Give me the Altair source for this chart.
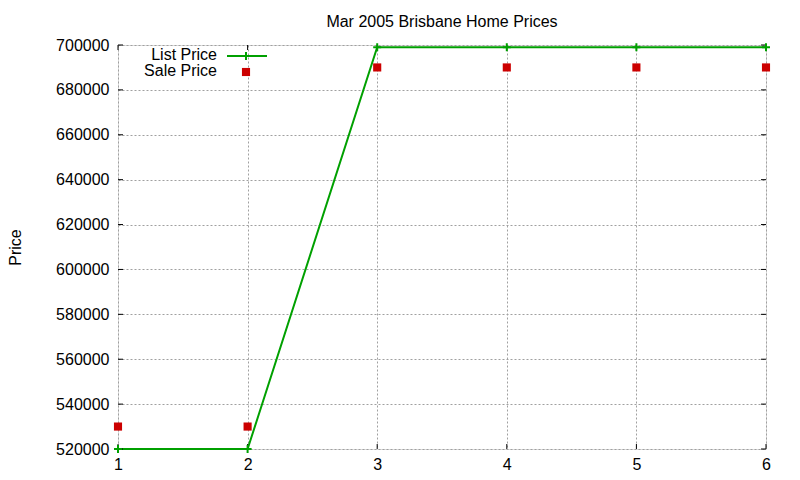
import altair as alt
import pandas as pd

x_vals = [1, 2, 3, 4, 5, 6]
list_price = [520000, 520000, 699000, 699000, 699000, 699000]
sale_price = [530000, 530000, 690000, 690000, 690000, 690000]
y_ticks = [520000, 540000, 560000, 580000, 600000, 620000, 640000, 660000, 680000, 700000]

GREEN = "#00a000"
RED = "#cc0000"
FONT = "Liberation Sans"
W, H, TK = 648, 404, 5

df = pd.DataFrame({"x": x_vals, "list": list_price, "sale": sale_price})
yt = pd.DataFrame({"v": y_ticks})
xt = pd.DataFrame({"v": x_vals})

xs = alt.Scale(domain=[1, 6], nice=False, zero=False)
ys = alt.Scale(domain=[520000, 700000], nice=False, zero=False)

x_axis = alt.Axis(values=x_vals, format="d", grid=True, gridColor="#a0a0a0", gridDash=[2, 2],
                  ticks=False, domain=False, labelFontSize=16, labelFont=FONT, labelColor="black",
                  labelPadding=7, labelFlush=False, labelOverlap=False, title=None)
y_axis = alt.Axis(values=y_ticks, format="d", grid=True, gridColor="#a0a0a0", gridDash=[2, 2],
                  ticks=False, domain=False, labelFontSize=16, labelFont=FONT, labelColor="black",
                  labelPadding=9, labelFlush=False, labelOverlap=False,
                  title="Price", titleFontSize=16, titleFont=FONT,
                  titleFontWeight="normal", titleColor="black", titleAngle=-90,
                  titleX=-103, titleY=202, titleAlign="center", titleBaseline="middle")

cross = "M -1 0 L 1 0 M 0 -1 L 0 1"

base = alt.Chart(df).mark_line(color=GREEN, strokeWidth=2).encode(
    x=alt.X("x:Q", scale=xs, axis=x_axis),
    y=alt.Y("list:Q", scale=ys, axis=y_axis),
)

# inward, mirrored ticks (gnuplot style)
yt_left = alt.Chart(yt).mark_rule(color="black", strokeWidth=1).encode(
    y=alt.Y("v:Q", scale=ys), x=alt.value(0), x2=alt.value(TK))
yt_right = alt.Chart(yt).mark_rule(color="black", strokeWidth=1).encode(
    y=alt.Y("v:Q", scale=ys), x=alt.value(W - TK), x2=alt.value(W))
xt_bot = alt.Chart(xt).mark_rule(color="black", strokeWidth=1).encode(
    x=alt.X("v:Q", scale=xs), y=alt.value(H - TK), y2=alt.value(H))
xt_top = alt.Chart(xt).mark_rule(color="black", strokeWidth=1).encode(
    x=alt.X("v:Q", scale=xs), y=alt.value(0), y2=alt.value(TK))

line_pts = alt.Chart(df).mark_point(shape=cross, size=64, color=GREEN, strokeWidth=2, filled=False, opacity=1).encode(
    x=alt.X("x:Q", scale=xs),
    y=alt.Y("list:Q", scale=ys),
)
sale_pts = alt.Chart(df).mark_square(size=66, color=RED, opacity=1).encode(
    x=alt.X("x:Q", scale=xs),
    y=alt.Y("sale:Q", scale=ys),
)

# legend (gnuplot style, top-left inside plot)
leg_names = ["List Price", "Sale Price"]
leg = pd.DataFrame({"name": leg_names})
leg_text1 = alt.Chart(leg.iloc[[0]]).mark_text(align="right", baseline="middle", fontSize=16, font=FONT, color="black").encode(
    text="name:N", x=alt.value(99), y=alt.value(10))
leg_text2 = alt.Chart(leg.iloc[[1]]).mark_text(align="right", baseline="middle", fontSize=16, font=FONT, color="black").encode(
    text="name:N", x=alt.value(99), y=alt.value(26))
leg_line = alt.Chart(leg.iloc[[0]]).mark_rule(color=GREEN, strokeWidth=2).encode(
    x=alt.value(109), x2=alt.value(149), y=alt.value(11))
leg_cross = alt.Chart(leg.iloc[[0]]).mark_point(shape=cross, size=64, color=GREEN, strokeWidth=2, filled=False, opacity=1).encode(
    x=alt.value(128), y=alt.value(11))
leg_sq = alt.Chart(leg.iloc[[1]]).mark_square(size=66, color=RED, opacity=1).encode(
    x=alt.value(128), y=alt.value(27))

chart = alt.layer(base, yt_left, yt_right, xt_bot, xt_top, line_pts, sale_pts,
                  leg_text1, leg_text2, leg_line, leg_cross, leg_sq).properties(
    width=W, height=H,
    title=alt.TitleParams("Mar 2005 Brisbane Home Prices", fontSize=16, font=FONT, fontWeight="normal",
                          color="black", anchor="middle", offset=7),
    autosize=alt.AutoSizeParams(type="none"),
    padding={"left": 110, "top": 37, "right": 26, "bottom": 23},
).configure_view(stroke="black", strokeWidth=1).configure(background="white")

chart.save("out.html", embed_options={"renderer": "svg", "actions": False})
